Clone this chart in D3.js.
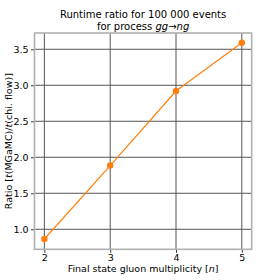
<!DOCTYPE html>
<html>
<head>
<meta charset="utf-8">
<script src="https://cdn.jsdelivr.net/npm/d3@7"></script>
<style>
  body { margin: 0; background: #fff; }
  text { font-family: "DejaVu Sans", sans-serif; fill: #000; }
</style>
</head>
<body>
<script>
// data
const multiplicity = [2, 3, 4, 5];
const ratio = [0.865, 1.885, 2.92, 3.59];
const ratioErr = [0.03, 0.03, 0.03, 0.03];
const xTicks = [2, 3, 4, 5];
const yTicks = [1.0, 1.5, 2.0, 2.5, 3.0, 3.5];

const width = 280, height = 280;
const margin = { left: 34.5, right: 28.3, top: 33, bottom: 30.7 };

const svg = d3.select("body").append("svg")
    .attr("width", width)
    .attr("height", height);

const x = d3.scaleLinear()
    .domain([1.85, 5.15])
    .range([margin.left, width - margin.right]);

const y = d3.scaleLinear()
    .domain([0.722, 3.726])
    .range([height - margin.bottom, margin.top]);

// grid
svg.append("g")
    .selectAll("line")
    .data(xTicks)
    .enter().append("line")
    .attr("x1", d => x(d)).attr("x2", d => x(d))
    .attr("y1", margin.top).attr("y2", height - margin.bottom)
    .attr("stroke", "#555")
    .attr("stroke-width", 1);

svg.append("g")
    .selectAll("line")
    .data(yTicks)
    .enter().append("line")
    .attr("x1", margin.left).attr("x2", width - margin.right)
    .attr("y1", d => y(d)).attr("y2", d => y(d))
    .attr("stroke", "#555")
    .attr("stroke-width", 1);

// axes
const xAxis = svg.append("g")
    .attr("transform", `translate(0,${height - margin.bottom})`)
    .call(d3.axisBottom(x).tickValues(xTicks).tickFormat(d3.format("d")).tickSizeOuter(0).tickSize(3.5).tickPadding(1));

const yAxis = svg.append("g")
    .attr("transform", `translate(${margin.left},0)`)
    .call(d3.axisLeft(y).tickValues(yTicks).tickFormat(d3.format(".1f")).tickSizeOuter(0).tickSize(3.5).tickPadding(2.5));

[xAxis, yAxis].forEach(g => {
    g.select(".domain").remove();
    g.selectAll("text").style("font-family", "DejaVu Sans, sans-serif").style("font-size", "9.5px").attr("fill", "#000");
    g.selectAll("line").attr("stroke", "#000").attr("stroke-width", 0.8);
});

// frame
svg.append("rect")
    .attr("x", margin.left)
    .attr("y", margin.top)
    .attr("width", width - margin.left - margin.right)
    .attr("height", height - margin.top - margin.bottom)
    .attr("fill", "none")
    .attr("stroke", "#b0b0b0")
    .attr("stroke-width", 1.6);

// line
const pts = multiplicity.map((m, i) => ({ m: m, r: ratio[i], e: ratioErr[i] }));

svg.append("path")
    .datum(pts)
    .attr("fill", "none")
    .attr("stroke", "#ff7f0e")
    .attr("stroke-width", 1.2)
    .attr("d", d3.line().x(d => x(d.m)).y(d => y(d.r)));

// error bars
svg.append("g")
    .selectAll("line")
    .data(pts)
    .enter().append("line")
    .attr("x1", d => x(d.m)).attr("x2", d => x(d.m))
    .attr("y1", d => y(d.r - d.e)).attr("y2", d => y(d.r + d.e))
    .attr("stroke", "#ff7f0e")
    .attr("stroke-width", 1.5);

svg.append("g")
    .selectAll("circle")
    .data(pts)
    .enter().append("circle")
    .attr("cx", d => x(d.m))
    .attr("cy", d => y(d.r))
    .attr("r", 3.2)
    .attr("fill", "#ff7f0e");

// title
const title = svg.append("text")
    .attr("x", (margin.left + width - margin.right) / 2)
    .attr("text-anchor", "middle")
    .style("font-size", "10px");
title.append("tspan")
    .attr("x", (margin.left + width - margin.right) / 2)
    .attr("y", 18)
    .text("Runtime ratio for 100 000 events");
const t2 = title.append("tspan")
    .attr("x", (margin.left + width - margin.right) / 2)
    .attr("y", 30);
t2.append("tspan").text("for process ");
t2.append("tspan").style("font-style", "italic").text("gg");
t2.append("tspan").text("→");
t2.append("tspan").style("font-style", "italic").text("ng");

// x label
const xl = svg.append("text")
    .attr("x", (margin.left + width - margin.right) / 2)
    .attr("y", 272)
    .attr("text-anchor", "middle")
    .style("font-size", "9.5px");
xl.append("tspan").text("Final state gluon multiplicity [");
xl.append("tspan").style("font-style", "italic").text("n");
xl.append("tspan").text("]");

// y label
const yl = svg.append("text")
    .attr("transform", `translate(12,${(margin.top + height - margin.bottom) / 2}) rotate(-90)`)
    .attr("text-anchor", "middle")
    .style("font-size", "9.5px");
yl.append("tspan").text("Ratio [");
yl.append("tspan").style("font-style", "italic").text("t");
yl.append("tspan").text("(MGaMC)/");
yl.append("tspan").style("font-style", "italic").text("t");
yl.append("tspan").text("(chi. flow)]");
</script>
</body>
</html>
